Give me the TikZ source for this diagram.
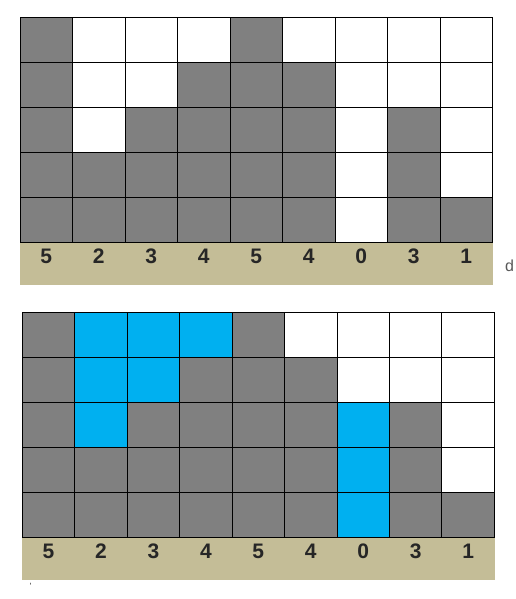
\documentclass[tikz,border=0pt]{standalone}
\usepackage{fontspec}
\setmainfont{Liberation Sans}
\definecolor{barg}{HTML}{808080}
\definecolor{tanb}{HTML}{C4BD97}
\definecolor{waterb}{HTML}{00B0F0}
\definecolor{digitc}{HTML}{262626}
\begin{document}
\begin{tikzpicture}[x=1pt,y=-1pt,
  cell/.style={draw=black,line width=0.9pt,rectangle,inner sep=0pt,outer sep=0pt,
    minimum width=52.5pt,minimum height=45pt,anchor=north west},
  band/.style={fill=tanb,draw=none,rectangle,inner sep=0pt,outer sep=0pt,
    minimum width=472.5pt,minimum height=42.5pt,anchor=north west},
  digit/.style={text=digitc,font=\fontsize{21}{21}\selectfont\bfseries,inner sep=0pt},
  stray/.style={text=black!65,font=\fontsize{16}{16}\selectfont,inner sep=0pt,anchor=base west}]
\useasboundingbox (0,0) rectangle (515,599);
% ---------- top grid ----------
\node[band] (tband) at (20,242) {};
\foreach \h [count=\c] in {5,2,3,4,5,4,0,3,1} {
  \foreach \r in {1,...,5} {
    \pgfmathtruncatemacro\lvl{6-\r}
    \ifnum\lvl>\h\relax\def\fc{white}\else\def\fc{barg}\fi
    \node[cell,fill=\fc] (t-\c-\r) at ({20+(\c-1)*52.5},{17.3+(\r-1)*45}) {};
  }
  \node[digit] (td-\c) at ({20+(\c-0.5)*52.5},256) {\h};
}
\node[stray] (sd) at (505,271.5) {d};
% ---------- bottom grid ----------
\node[band] (bband) at (22,537) {};
\foreach \h/\w [count=\c] in {5/0,2/3,3/2,4/1,5/0,4/0,0/3,3/0,1/0} {
  \foreach \r in {1,...,5} {
    \pgfmathtruncatemacro\lvl{6-\r}
    \pgfmathtruncatemacro\top{\h+\w}
    \ifnum\lvl>\h\relax
      \ifnum\lvl>\top\relax\def\fc{white}\else\def\fc{waterb}\fi
    \else\def\fc{barg}\fi
    \node[cell,fill=\fc] (b-\c-\r) at ({22.3+(\c-1)*52.45},{312.3+(\r-1)*45}) {};
  }
  \node[digit] (bd-\c) at ({22.3+(\c-0.5)*52.45},551) {\h};
}
\node[text=black!80,font=\fontsize{9}{9}\selectfont,inner sep=0pt] (bm) at (30.5,586) {'};
\end{tikzpicture}
\end{document}
